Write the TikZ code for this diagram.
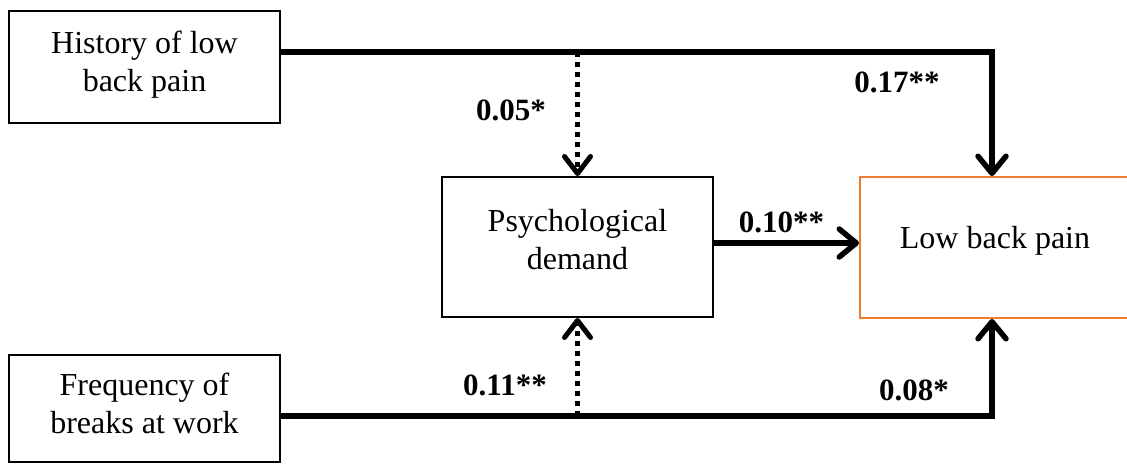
\documentclass[tikz,border=0pt]{standalone}
\usepackage{fontspec}
\setmainfont{Liberation Serif}
\usetikzlibrary{arrows.meta}
\definecolor{lbporange}{HTML}{ED7D31}
\tikzset{
  box/.style={draw=black, line width=2pt, rectangle, inner sep=0pt, align=center,
    font=\fontsize{32}{38}\selectfont},
  coef/.style={inner sep=0pt, anchor=base, font=\fontsize{31}{36}\selectfont\bfseries},
  solidarr/.style={line width=5.5pt, -{Straight Barb[length=17pt,width=28pt,round]}},
  dotarr/.style={line width=5pt, dash pattern=on 5pt off 5pt, -{Straight Barb[length=17pt,width=26pt,round]}},
}
\begin{document}
\begin{tikzpicture}[x=1pt, y=-1pt]
\clip (0,0) rectangle (1127,464);
\fill[white] (0,0) rectangle (1127,464);
% boxes
\node[box, minimum width=271pt, minimum height=112pt, text depth=11pt] (hist) at (144.5,67) {History of low\\back pain};
\node[box, minimum width=271pt, minimum height=107pt, text depth=10pt] (freq) at (144.5,408.5) {Frequency of\\breaks at work};
\node[box, minimum width=271pt, minimum height=140pt, text depth=15pt] (psych) at (577.5,247) {Psychological\\demand};
\node[box, draw=lbporange, minimum width=270pt, minimum height=141pt, text depth=21pt] (lbp) at (995,247.5) {Low back pain};
% corner coordinates
\coordinate (tr) at (992,52);
\coordinate (br) at (992,416);
% connectors
\draw[solidarr, line join=miter] (hist.east |- tr) -- (tr) -- (lbp.north -| tr);
\draw[solidarr, line join=miter] (freq.east |- br) -- (br) -- (lbp.south -| br);
\draw[dotarr] (psych.north |- tr) -- (psych.north);
\draw[dotarr] (psych.south |- br) -- (psych.south);
\draw[solidarr] ([yshift=4pt]psych.east) -- ([yshift=4pt]psych.east -| lbp.west);
% coefficients
\node[coef] (c05) at (511,120) {0.05*};
\node[coef] (c17) at (897,92) {0.17**};
\node[coef] (c10) at (781.5,232) {0.10**};
\node[coef] (c11) at (505,395) {0.11**};
\node[coef] (c08) at (914,400) {0.08*};
\end{tikzpicture}
\end{document}
